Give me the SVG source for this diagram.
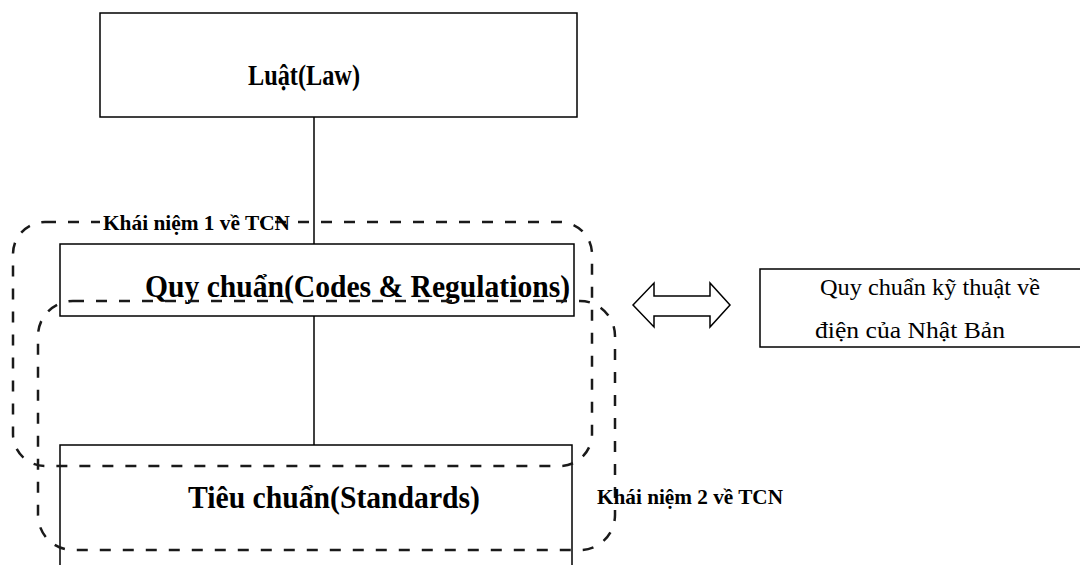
<svg xmlns="http://www.w3.org/2000/svg" width="1080" height="565" viewBox="0 0 1080 565">
  <style>
    .box { fill: #ffffff; stroke: #000000; stroke-width: 1.5; }
    .link { stroke: #000000; stroke-width: 1.5; fill: none; }
    .group { fill: none; stroke: #1a1a1a; stroke-width: 2.5; stroke-dasharray: 11 12; }
    .title { font-family: "Liberation Serif", "Times New Roman", serif; font-weight: bold; fill: #000000; }
    .label { font-family: "Liberation Serif", "Times New Roman", serif; font-weight: bold; font-size: 22px; fill: #000000; }
    .plain { font-family: "Liberation Serif", "Times New Roman", serif; font-size: 24px; fill: #000000; }
  </style>
  <rect x="0" y="0" width="1080" height="565" fill="#ffffff"/>

  <g id="connectors">
    <line class="link" x1="314" y1="117" x2="314" y2="244"/>
    <line class="link" x1="314" y1="316" x2="314" y2="445"/>
    <polygon class="link" points="633,305 654,283 654,296 710,296 710,283 730,305 710,327 710,316 654,316 654,327"/>
  </g>

  <g id="law">
    <rect class="box" x="100" y="13" width="477" height="104"/>
    <text class="title" x="248" y="85" font-size="29" textLength="112" lengthAdjust="spacingAndGlyphs">Luật(Law)</text>
  </g>

  <g id="codes">
    <rect class="box" x="60" y="244" width="514" height="72"/>
    <text class="title" x="145" y="297" font-size="32" textLength="425" lengthAdjust="spacingAndGlyphs">Quy chuẩn(Codes &amp; Regulations)</text>
  </g>

  <g id="standards">
    <rect class="box" x="60" y="445" width="512" height="130"/>
    <text class="title" x="188" y="508" font-size="32" textLength="292" lengthAdjust="spacingAndGlyphs">Tiêu chuẩn(Standards)</text>
  </g>

  <g id="japan">
    <rect class="box" x="760" y="269" width="330" height="78"/>
    <text class="plain" x="820" y="295" textLength="220" lengthAdjust="spacingAndGlyphs">Quy chuẩn kỹ thuật về</text>
    <text class="plain" x="815" y="338" textLength="190" lengthAdjust="spacingAndGlyphs">điện của Nhật Bản</text>
  </g>

  <g id="concept1">
    <rect class="group" x="13" y="222" width="579" height="244" rx="32" ry="32"/>
    <rect x="100" y="211" width="160" height="22" fill="#ffffff"/>
    <text class="label" x="103" y="230" textLength="187" lengthAdjust="spacingAndGlyphs">Khái niệm 1 về TCN</text>
  </g>

  <g id="concept2">
    <rect class="group" x="38" y="301" width="577" height="249" rx="35" ry="35"/>
    <text class="label" x="597" y="504" textLength="186" lengthAdjust="spacingAndGlyphs">Khái niệm 2 về TCN</text>
  </g>
</svg>
